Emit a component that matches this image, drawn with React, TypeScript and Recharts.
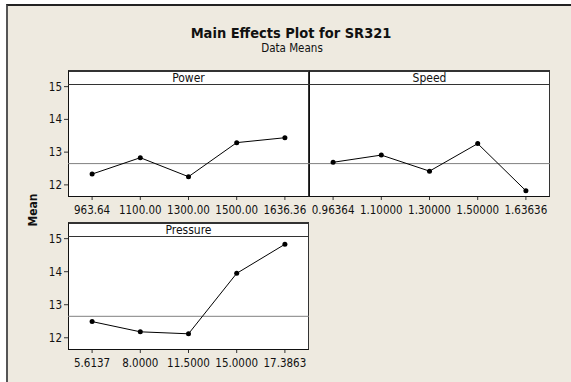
import { LineChart, Line, XAxis, YAxis, ReferenceLine } from "recharts";

// factor levels (tick labels) and data means
const powerLevels = ["963.64", "1100.00", "1300.00", "1500.00", "1636.36"];
const powerMeans = [12.33, 12.83, 12.25, 13.29, 13.44];
const speedLevels = ["0.96364", "1.10000", "1.30000", "1.50000", "1.63636"];
const speedMeans = [12.69, 12.91, 12.42, 13.26, 11.82];
const pressureLevels = ["5.6137", "8.0000", "11.5000", "15.0000", "17.3863"];
const pressureMeans = [12.49, 12.18, 12.12, 13.95, 14.83];
const grandMean = 12.65;
const yTicks = [12, 13, 14, 15];
const yDomain = [11.63, 15.05];

const FONT = "'DejaVu Sans Condensed', 'DejaVu Sans', sans-serif";
const BG = "#eeeae0";
const AXIS_W = 50;
const AXIS_H = 25;
const PAD_TOP = 8;

type PanelProps = {
  name: string;
  levels: string[];
  means: number[];
  x: number;
  top: number;
  w: number;
  h: number;
  showY: boolean;
};

function Panel({ name, levels, means, x, top, w, h, showY }: PanelProps) {
  const rows = means.map((m, i) => ({ i: i + 1, mean: m }));
  const headerH = 15;
  return (
    <>
      <div
        style={{
          position: "absolute",
          left: x,
          top: top - headerH,
          width: w,
          height: h + headerH,
          boxSizing: "border-box",
          background: "#fff",
          borderLeft: "1px solid #111",
          borderRight: "1px solid #333",
          borderTop: "2px solid #333",
          borderBottom: "1px solid #111",
        }}
      />
      <div
        style={{
          position: "absolute",
          left: x,
          top: top - headerH + 1,
          width: w,
          height: headerH - 1,
          boxSizing: "border-box",
          borderBottom: "1px solid #333",
          textAlign: "center",
          fontFamily: FONT,
          fontSize: 12,
          lineHeight: headerH + "px",
          color: "#111",
        }}
      >
        {name}
      </div>
      <div style={{ position: "absolute", left: x - AXIS_W, top: top - PAD_TOP }}>
        <LineChart
          width={w + AXIS_W}
          height={h + AXIS_H + PAD_TOP}
          data={rows}
          margin={{ top: PAD_TOP, right: 0, bottom: 0, left: 0 }}
        >
          <XAxis
            type="number"
            dataKey="i"
            domain={[0.5, 5.5]}
            ticks={[1, 2, 3, 4, 5]}
            interval={0}
            tickFormatter={(v) => levels[v - 1]}
            height={AXIS_H}
            axisLine={false}
            tickSize={3}
            tickMargin={6}
            tickLine={{ stroke: "#333" }}
            tick={{ fontSize: 11.5, fill: "#111", fontFamily: FONT }}
          />
          <YAxis
            type="number"
            domain={yDomain}
            allowDataOverflow
            ticks={yTicks}
            interval={0}
            width={AXIS_W}
            axisLine={false}
            tickSize={showY ? 4 : 0}
            tickMargin={2}
            tickLine={showY ? { stroke: "#333" } : false}
            tick={showY ? { fontSize: 11.5, fill: "#111", fontFamily: FONT } : false}
          />
          <ReferenceLine y={grandMean} stroke="#808080" strokeWidth={1} />
          <Line
            dataKey="mean"
            stroke="#000"
            strokeWidth={1}
            dot={{ r: 2.5, fill: "#000", stroke: "#000", strokeWidth: 0 }}
            isAnimationActive={false}
          />
        </LineChart>
      </div>
    </>
  );
}

export default function App() {
  return (
    <div style={{ position: "fixed", left: 0, top: 0, width: 571, height: 382, background: "#fff", overflow: "hidden" }}>
      <div
        style={{
          position: "absolute",
          left: 6,
          top: 4,
          width: 620,
          height: 420,
          background: BG,
          borderLeft: "2px solid #555",
          borderTop: "2px solid #222",
        }}
      />
      <svg width={571} height={382} style={{ position: "absolute", left: 0, top: 0 }}>
        <text x={291} y={37.5} textAnchor="middle" fontFamily={FONT} fontWeight="bold" fontSize={14.5} fill="#111">
          Main Effects Plot for SR321
        </text>
        <text x={292} y={51.5} textAnchor="middle" fontFamily={FONT} fontSize={11.5} fill="#111">
          Data Means
        </text>
        <text
          x={0}
          y={0}
          transform="translate(37,210) rotate(-90)"
          textAnchor="middle"
          fontFamily={FONT}
          fontWeight="bold"
          fontSize={12}
          fill="#111"
        >
          Mean
        </text>
      </svg>
      <Panel name="Power" levels={powerLevels} means={powerMeans} x={68} top={85} w={241} h={112} showY />
      <Panel name="Speed" levels={speedLevels} means={speedMeans} x={309} top={85} w={241} h={112} showY={false} />
      <Panel name="Pressure" levels={pressureLevels} means={pressureMeans} x={68} top={237} w={241} h={113} showY />
    </div>
  );
}
